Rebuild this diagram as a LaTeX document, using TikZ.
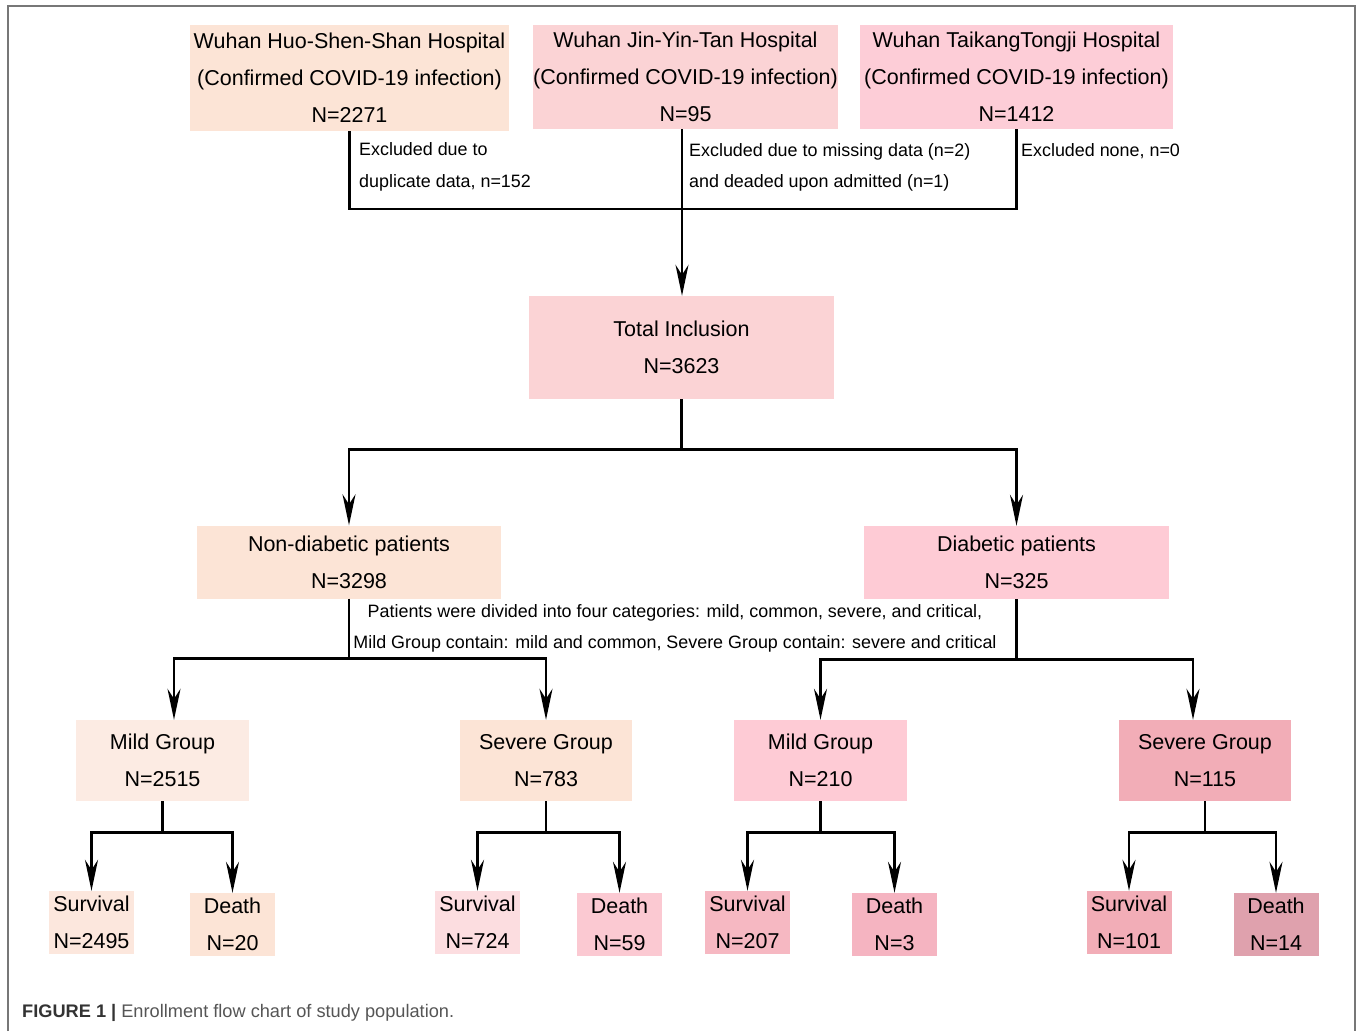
\documentclass[tikz,border=0pt]{standalone}
\usepackage{fontspec}
\setmainfont{Liberation Sans}
\usepackage{xcolor}
\usetikzlibrary{arrows.meta,positioning}
\definecolor{peach}{HTML}{FCE4D6}
\definecolor{peachlight}{HTML}{FCEBE3}
\definecolor{peachleaf}{HTML}{FCE7DD}
\definecolor{rosetop}{HTML}{FBD3D5}
\definecolor{pinktop}{HTML}{FDCDD7}
\definecolor{pinkdiab}{HTML}{FECBD5}
\definecolor{pinkpale}{HTML}{FCDDE0}
\definecolor{pinkmid}{HTML}{FBC9D2}
\definecolor{pinkdeep}{HTML}{F6B8C2}
\definecolor{pinkdeath}{HTML}{F5B4C1}
\definecolor{pinkstrong}{HTML}{F2ADB7}
\definecolor{mauve}{HTML}{DFA1AD}
\definecolor{framegray}{HTML}{777777}
\definecolor{capdark}{HTML}{333333}
\definecolor{capgray}{HTML}{555555}
\tikzset{
  every node/.style={
    font=\fontsize{21.5}{37}\selectfont
  },
  box/.style={
    shape=rectangle,
    inner sep=0pt,
    align=center,
    text=black
  },
  topbox/.style={
    box,
    fill=#1,
    minimum width=305pt,
    minimum height=104pt
  },
  groupbox/.style={
    box,
    fill=#1,
    minimum width=305pt,
    minimum height=73pt
  },
  subbox/.style={
    box,
    fill=#1,
    minimum width=173pt,
    minimum height=81pt
  },
  leafbox/.style={
    box,
    fill=#1,
    minimum width=85pt,
    minimum height=63pt
  },
  note/.style={
    font=\fontsize{17.9}{31.5}\selectfont,
    inner sep=0pt,
    align=left
  },
  link/.style={
    draw=black,
    line width=2.6pt
  },
  flow/.style={
    link,
    -{Stealth[length=31pt,width=13pt,inset=10pt]}
  }
}
\begin{document}
\begin{tikzpicture}[x=1pt,y=-1pt]
  \useasboundingbox (0,0) rectangle (1357,1031);
  \draw[framegray, line width=2pt] (8,1031) -- (8,6) -- (1355,6) -- (1355,1031);

  \node[topbox=peach, minimum width=319pt, minimum height=106pt] (hs) at (349.5,78)
    {Wuhan Huo-Shen-Shan Hospital\\(Confirmed COVID-19 infection)\\N=2271};
  \node[topbox=rosetop] (jyt) at (685.5,77)
    {Wuhan Jin-Yin-Tan Hospital\\(Confirmed COVID-19 infection)\\N=95};
  \node[topbox=pinktop, minimum width=313pt] (tt) at (1016.5,77)
    {Wuhan TaikangTongji Hospital\\(Confirmed COVID-19 infection)\\N=1412};

  \node[note, anchor=west] (ex1) at (359,167) {Excluded due to\\duplicate data, n=152};
  \node[note, anchor=west] (ex2) at (689,167.5) {Excluded due to missing data (n=2)\\and deaded upon admitted (n=1)};
  \node[note, anchor=west] (ex3) at (1021,151) {Excluded none, n=0};

  \node[topbox=rosetop, minimum height=103pt] (total) at (681.5,347.5)
    {Total Inclusion\\N=3623};

  \node[groupbox=peach, minimum width=304pt] (nondiab) at (349,562)
    {Non-diabetic patients\\N=3298};
  \node[groupbox=pinkdiab] (diab) at (1016.5,562.5)
    {Diabetic patients\\N=325};

  \node[note, align=center] (cat) at (675,628.5)
    {Patients were divided into four categories: mild, common, severe, and critical,\\
     Mild Group contain: mild and common, Severe Group contain: severe and critical};

  \node[subbox=peachlight] (mildnd) at (162.5,760.5) {Mild Group\\N=2515};
  \node[subbox=peach, minimum width=172pt] (sevnd) at (546,760.5) {Severe Group\\N=783};
  \node[subbox=pinkdiab] (milddb) at (820.5,760.5) {Mild Group\\N=210};
  \node[subbox=pinkstrong, minimum width=172pt] (sevdb) at (1205,760.5) {Severe Group\\N=115};

  \node[leafbox=peachleaf] (surv1) at (91.5,922.5) {Survival\\N=2495};
  \node[leafbox=peach] (death1) at (232.5,924.5) {Death\\N=20};
  \node[leafbox=pinkpale] (surv2) at (477.5,922.5) {Survival\\N=724};
  \node[leafbox=pinkmid] (death2) at (619.5,924.5) {Death\\N=59};
  \node[leafbox=pinkdeep] (surv3) at (747.5,922.5) {Survival\\N=207};
  \node[leafbox=pinkdeath] (death3) at (894.5,924.5) {Death\\N=3};
  \node[leafbox=pinkstrong] (surv4) at (1129,922.5) {Survival\\N=101};
  \node[leafbox=mauve] (death4) at (1276,924.5) {Death\\N=14};

  \coordinate (merge) at (682,209);
  \draw[link] (hs.south) |- (merge) -| (tt.south);
  \draw[link] (jyt.south -| merge) -- (merge);
  \draw[flow] (merge) -- (merge |- total.north);

  \draw[link] (total.south) -- ++(0,50) coordinate (split);
  \draw[flow] (split) -| (nondiab.north);
  \draw[flow] (split) -| (diab.north);

  \draw[link] (nondiab.south) -- ++(0,60) coordinate (ndsplit);
  \draw[flow] (ndsplit) -| ([xshift=11.5pt]mildnd.north);
  \draw[flow] (ndsplit) -| (sevnd.north);
  \draw[link] (diab.south) -- ++(0,60) coordinate (dbsplit);
  \draw[flow] (dbsplit) -| (milddb.north);
  \draw[flow] (dbsplit) -| ([xshift=-12pt]sevdb.north);

  \draw[link] (mildnd.south) -- ++(0,31) coordinate (s1);
  \draw[flow] (s1) -| (surv1.north);
  \draw[flow] (s1) -| (death1.north);
  \draw[link] (sevnd.south) -- ++(0,31) coordinate (s2);
  \draw[flow] (s2) -| (surv2.north);
  \draw[flow] (s2) -| (death2.north);
  \draw[link] (milddb.south) -- ++(0,31) coordinate (s3);
  \draw[flow] (s3) -| (surv3.north);
  \draw[flow] (s3) -| (death3.north);
  \draw[link] (sevdb.south) -- ++(0,31) coordinate (s4);
  \draw[flow] (s4) -| (surv4.north);
  \draw[flow] (s4) -| (death4.north);

  \node[anchor=base west, inner sep=0pt, font=\fontsize{18.2}{22}\selectfont] (caption) at (22,1017)
    {\textcolor{capdark}{\textbf{FIGURE 1 |}} \textcolor{capgray}{Enrollment flow chart of study population.}};
\end{tikzpicture}
\end{document}
